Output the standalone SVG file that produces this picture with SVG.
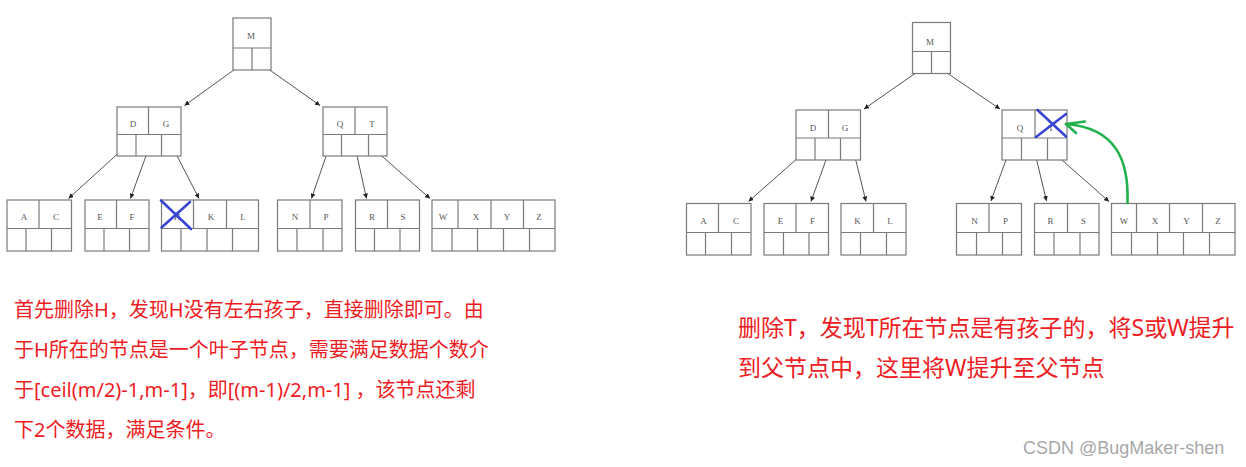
<svg xmlns="http://www.w3.org/2000/svg" width="1246" height="467" viewBox="0 0 1246 467">
<style>
.n rect,.n line{fill:none;stroke:#7a7a7a;stroke-width:1.2}
.n rect{fill:#fff}
.k{font-family:'Liberation Serif',serif;font-size:9px;fill:#555;text-anchor:middle}
.e line{stroke:#555;stroke-width:1}
.x{stroke:#3a45d4;stroke-width:2.6;stroke-linecap:round;fill:none}
.t{font-family:'Noto Sans','Noto Sans CJK SC',sans-serif;font-size:20px;fill:#ee1c24}
.t2{font-size:23px}
.w{font-family:'Liberation Sans',sans-serif;font-size:18px;fill:#a8a8a8}
</style>
<defs>
<marker id="ah" markerUnits="userSpaceOnUse" markerWidth="5" markerHeight="5" viewBox="0 0 10 10" refX="10" refY="5" orient="auto">
<path d="M0,0 L10,5 L0,10 z" fill="#222"/>
</marker>
</defs>
<rect width="1246" height="467" fill="#fff"/>

<!-- LEFT TREE -->
<g id="connectors-left" class="e">
<line x1="245" y1="62" x2="184.5" y2="105.5" marker-end="url(#ah)"/>
<line x1="258.5" y1="62" x2="320" y2="105.5" marker-end="url(#ah)"/>
<line x1="123.5" y1="148.5" x2="68.5" y2="198.5" marker-end="url(#ah)"/>
<line x1="148.5" y1="149" x2="130.5" y2="198.5" marker-end="url(#ah)"/>
<line x1="173.5" y1="149" x2="199" y2="198.5" marker-end="url(#ah)"/>
<line x1="328.5" y1="149" x2="311.5" y2="198.5" marker-end="url(#ah)"/>
<line x1="355.5" y1="149" x2="366.5" y2="198.5" marker-end="url(#ah)"/>
<line x1="375" y1="150" x2="430" y2="198.5" marker-end="url(#ah)"/>
</g>

<g id="L-M" class="n">
<rect x="233" y="18" width="38" height="52"/>
<line x1="233" y1="48" x2="271" y2="48"/><line x1="252" y1="48" x2="252" y2="70"/>
<text class="k" x="251" y="39">M</text>
</g>
<g id="L-DG" class="n">
<rect x="117" y="107" width="64" height="49"/>
<line x1="117" y1="134.5" x2="181" y2="134.5"/><line x1="148.5" y1="107" x2="148.5" y2="134.5"/>
<line x1="136" y1="134.5" x2="136" y2="156"/><line x1="161.5" y1="134.5" x2="161.5" y2="156"/>
<text class="k" x="133" y="126.5">D</text><text class="k" x="166" y="126.5">G</text>
</g>
<g id="L-QT" class="n">
<rect x="323" y="107" width="64" height="49"/>
<line x1="323" y1="134.5" x2="387" y2="134.5"/><line x1="355" y1="107" x2="355" y2="134.5"/>
<line x1="341.5" y1="134.5" x2="341.5" y2="156"/><line x1="368.5" y1="134.5" x2="368.5" y2="156"/>
<text class="k" x="340" y="126.5">Q</text><text class="k" x="372" y="126.5">T</text>
</g>
<g id="L-AC" class="n">
<rect x="7" y="200" width="64.5" height="51"/>
<line x1="7" y1="228.5" x2="71.5" y2="228.5"/><line x1="39" y1="200" x2="39" y2="228.5"/>
<line x1="26" y1="228.5" x2="26" y2="251"/><line x1="51.5" y1="228.5" x2="51.5" y2="251"/>
<text class="k" x="24" y="220">A</text><text class="k" x="56" y="220">C</text>
</g>
<g id="L-EF" class="n">
<rect x="85" y="200" width="64" height="51"/>
<line x1="85" y1="228.5" x2="149" y2="228.5"/><line x1="116.5" y1="200" x2="116.5" y2="228.5"/>
<line x1="104" y1="228.5" x2="104" y2="251"/><line x1="129.5" y1="228.5" x2="129.5" y2="251"/>
<text class="k" x="100" y="220">E</text><text class="k" x="132" y="220">F</text>
</g>
<g id="L-HKL" class="n">
<rect x="161.5" y="200" width="97" height="51"/>
<line x1="161.5" y1="228.5" x2="258.5" y2="228.5"/><line x1="193.5" y1="200" x2="193.5" y2="228.5"/><line x1="226.5" y1="200" x2="226.5" y2="228.5"/>
<line x1="181" y1="228.5" x2="181" y2="251"/><line x1="207" y1="228.5" x2="207" y2="251"/><line x1="232.5" y1="228.5" x2="232.5" y2="251"/>
<text class="k" x="177" y="220">H</text><text class="k" x="211" y="220">K</text><text class="k" x="243" y="220">L</text>
</g>
<g id="L-NP" class="n">
<rect x="277.5" y="200" width="64.5" height="51"/>
<line x1="277.5" y1="228.5" x2="342" y2="228.5"/><line x1="310" y1="200" x2="310" y2="228.5"/>
<line x1="297" y1="228.5" x2="297" y2="251"/><line x1="323" y1="228.5" x2="323" y2="251"/>
<text class="k" x="295" y="220">N</text><text class="k" x="326" y="220">P</text>
</g>
<g id="L-RS" class="n">
<rect x="355.5" y="200" width="64" height="51"/>
<line x1="355.5" y1="228.5" x2="419.5" y2="228.5"/><line x1="387.5" y1="200" x2="387.5" y2="228.5"/>
<line x1="374.5" y1="228.5" x2="374.5" y2="251"/><line x1="400" y1="228.5" x2="400" y2="251"/>
<text class="k" x="372" y="220">R</text><text class="k" x="403" y="220">S</text>
</g>
<g id="L-WXYZ" class="n">
<rect x="432" y="200" width="123" height="51"/>
<line x1="432" y1="228.5" x2="555" y2="228.5"/>
<line x1="458" y1="200" x2="458" y2="228.5"/><line x1="491" y1="200" x2="491" y2="228.5"/><line x1="523.5" y1="200" x2="523.5" y2="228.5"/>
<line x1="452" y1="228.5" x2="452" y2="251"/><line x1="477.5" y1="228.5" x2="477.5" y2="251"/><line x1="503.5" y1="228.5" x2="503.5" y2="251"/><line x1="529.5" y1="228.5" x2="529.5" y2="251"/>
<text class="k" x="443" y="220">W</text><text class="k" x="476" y="220">X</text><text class="k" x="507" y="220">Y</text><text class="k" x="539" y="220">Z</text>
</g>
<g id="L-cross">
<line class="x" x1="161" y1="200.5" x2="191" y2="229"/>
<line class="x" x1="190" y1="202" x2="161.5" y2="227.5"/>
</g>

<!-- RIGHT TREE -->
<g id="connectors-right" class="e">
<line x1="925" y1="66.5" x2="864" y2="109" marker-end="url(#ah)"/>
<line x1="937.5" y1="66.5" x2="1000" y2="109" marker-end="url(#ah)"/>
<line x1="803.5" y1="153" x2="748.5" y2="201.5" marker-end="url(#ah)"/>
<line x1="828.5" y1="153" x2="811" y2="201.5" marker-end="url(#ah)"/>
<line x1="854" y1="153" x2="866" y2="201.5" marker-end="url(#ah)"/>
<line x1="1008.5" y1="153" x2="991" y2="201" marker-end="url(#ah)"/>
<line x1="1035" y1="153" x2="1046.5" y2="201" marker-end="url(#ah)"/>
<line x1="1054" y1="153" x2="1109" y2="201.5" marker-end="url(#ah)"/>
</g>

<g id="R-M" class="n">
<rect x="912.5" y="22.5" width="38" height="51"/>
<line x1="912.5" y1="51.5" x2="950.5" y2="51.5"/><line x1="931.5" y1="51.5" x2="931.5" y2="73.5"/>
<text class="k" x="930" y="44.5">M</text>
</g>
<g id="R-DG" class="n">
<rect x="796" y="110" width="64.5" height="50"/>
<line x1="796" y1="138" x2="860.5" y2="138"/><line x1="828.5" y1="110" x2="828.5" y2="138"/>
<line x1="815" y1="138" x2="815" y2="160"/><line x1="840.5" y1="138" x2="840.5" y2="160"/>
<text class="k" x="813" y="130.5">D</text><text class="k" x="845" y="130.5">G</text>
</g>
<g id="R-QT" class="n">
<rect x="1002" y="110" width="65" height="50"/>
<line x1="1002" y1="138" x2="1067" y2="138"/><line x1="1035" y1="110" x2="1035" y2="138"/>
<line x1="1021.5" y1="138" x2="1021.5" y2="160"/><line x1="1047.5" y1="138" x2="1047.5" y2="160"/>
<text class="k" x="1020" y="130.5">Q</text><text class="k" x="1051" y="130.5">T</text>
</g>
<g id="R-AC" class="n">
<rect x="686.5" y="203.5" width="64.5" height="51.5"/>
<line x1="686.5" y1="232.5" x2="751" y2="232.5"/><line x1="718.5" y1="203.5" x2="718.5" y2="232.5"/>
<line x1="705.5" y1="232.5" x2="705.5" y2="255"/><line x1="731.5" y1="232.5" x2="731.5" y2="255"/>
<text class="k" x="703.5" y="224">A</text><text class="k" x="736" y="224">C</text>
</g>
<g id="R-EF" class="n">
<rect x="764" y="203.5" width="64.5" height="51.5"/>
<line x1="764" y1="232.5" x2="828.5" y2="232.5"/><line x1="796" y1="203.5" x2="796" y2="232.5"/>
<line x1="783.5" y1="232.5" x2="783.5" y2="255"/><line x1="809" y1="232.5" x2="809" y2="255"/>
<text class="k" x="780.5" y="224">E</text><text class="k" x="812.5" y="224">F</text>
</g>
<g id="R-KL" class="n">
<rect x="841" y="203.5" width="65" height="51.5"/>
<line x1="841" y1="232.5" x2="906" y2="232.5"/><line x1="873.5" y1="203.5" x2="873.5" y2="232.5"/>
<line x1="860.5" y1="232.5" x2="860.5" y2="255"/><line x1="886.5" y1="232.5" x2="886.5" y2="255"/>
<text class="k" x="857.5" y="224">K</text><text class="k" x="890" y="224">L</text>
</g>
<g id="R-NP" class="n">
<rect x="956.5" y="203.5" width="65" height="51.5"/>
<line x1="956.5" y1="232.5" x2="1021.5" y2="232.5"/><line x1="989" y1="203.5" x2="989" y2="232.5"/>
<line x1="976.5" y1="232.5" x2="976.5" y2="255"/><line x1="1002.5" y1="232.5" x2="1002.5" y2="255"/>
<text class="k" x="974.5" y="224">N</text><text class="k" x="1005.5" y="224">P</text>
</g>
<g id="R-RS" class="n">
<rect x="1034.5" y="203.5" width="64.5" height="51.5"/>
<line x1="1034.5" y1="232.5" x2="1099" y2="232.5"/><line x1="1067.5" y1="203.5" x2="1067.5" y2="232.5"/>
<line x1="1054" y1="232.5" x2="1054" y2="255"/><line x1="1080" y1="232.5" x2="1080" y2="255"/>
<text class="k" x="1050.5" y="224">R</text><text class="k" x="1083.5" y="224">S</text>
</g>
<g id="R-WXYZ" class="n">
<rect x="1111.5" y="203.5" width="123.5" height="51.5"/>
<line x1="1111.5" y1="232.5" x2="1235" y2="232.5"/>
<line x1="1136.5" y1="203.5" x2="1136.5" y2="232.5"/><line x1="1169.5" y1="203.5" x2="1169.5" y2="232.5"/><line x1="1202.5" y1="203.5" x2="1202.5" y2="232.5"/>
<line x1="1131.5" y1="232.5" x2="1131.5" y2="255"/><line x1="1157.5" y1="232.5" x2="1157.5" y2="255"/><line x1="1183.5" y1="232.5" x2="1183.5" y2="255"/><line x1="1209.5" y1="232.5" x2="1209.5" y2="255"/>
<text class="k" x="1124" y="224">W</text><text class="k" x="1155" y="224">X</text><text class="k" x="1186.5" y="224">Y</text><text class="k" x="1218" y="224">Z</text>
</g>
<g id="R-cross">
<line class="x" x1="1037.5" y1="110" x2="1066" y2="136.5"/>
<line class="x" x1="1066" y1="114" x2="1036" y2="137"/>
</g>
<g id="R-promote" fill="none" stroke="#22b14c" stroke-width="2.6" stroke-linecap="round" stroke-linejoin="round">
<path d="M1127.5,203 C1129,160 1116,128 1066,124"/>
<path d="M1085,121.5 L1066,124 L1076,133"/>
</g>

<!-- TEXT -->
<g id="caption-left" class="t">
<text x="14" y="317">首先删除H，发现H没有左右孩子，直接删除即可。由</text>
<text x="14" y="357">于H所在的节点是一个叶子节点，需要满足数据个数介</text>
<text x="14" y="397">于[ceil(m/2)-1,m-1]，即[(m-1)/2,m-1] ，该节点还剩</text>
<text x="14" y="437">下2个数据，满足条件。</text>
</g>
<g id="caption-right" class="t t2">
<text x="738" y="336">删除T，发现T所在节点是有孩子的，将S或W提升</text>
<text x="738" y="376">到父节点中，这里将W提升至父节点</text>
</g>
<text class="w" x="1023" y="454">CSDN @BugMaker-shen</text>
</svg>
